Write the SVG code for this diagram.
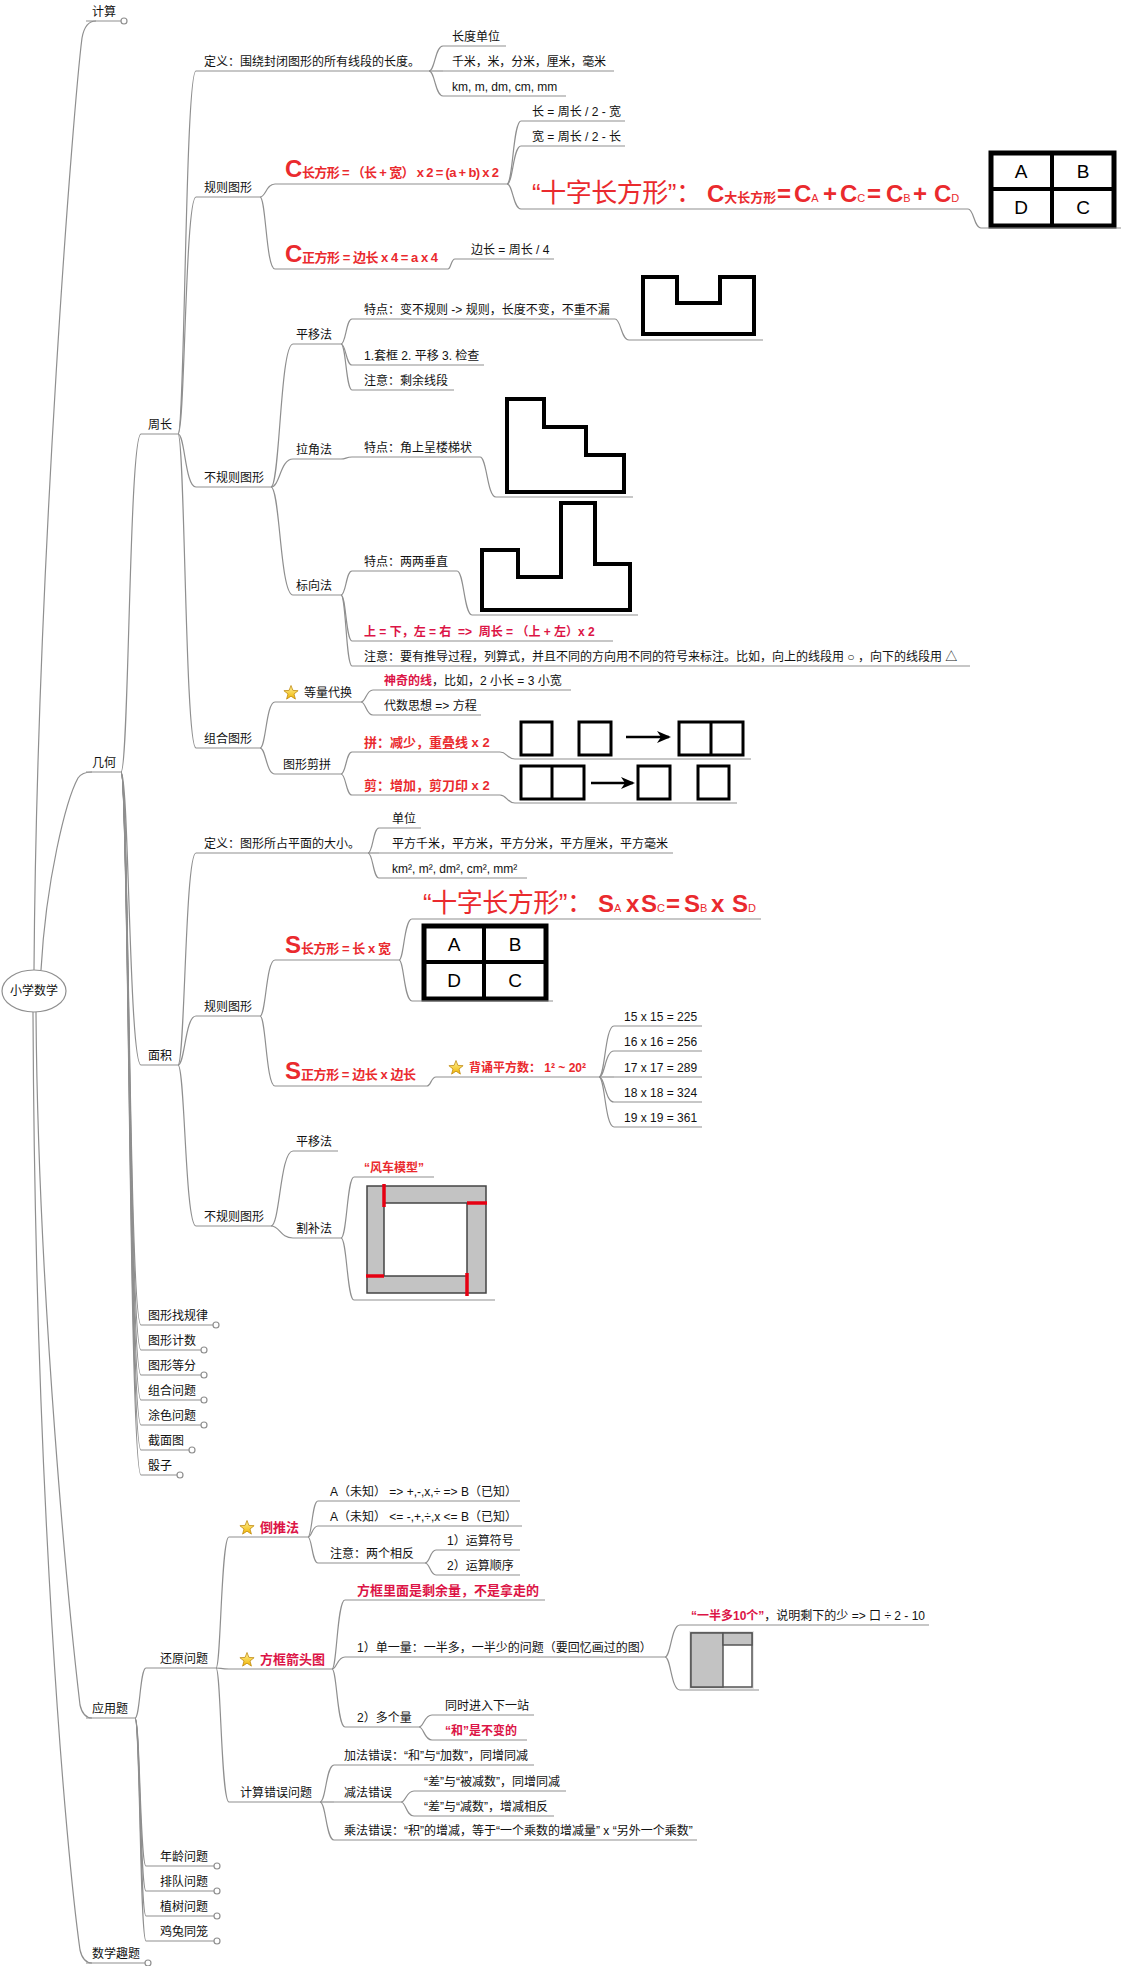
<svg xmlns="http://www.w3.org/2000/svg" width="1121" height="1966" viewBox="0 0 1121 1966">
<style>
text{font-family:"Liberation Sans","Noto Sans CJK SC",sans-serif;font-size:12px;fill:#111}
.u{fill:none;stroke:#8f8f8f;stroke-width:1.2}
#connectors path{fill:none;stroke:#8f8f8f;stroke-width:1.2}
.dot{fill:#fff;stroke:#8f8f8f;stroke-width:1.2}
.f{fill:#ea2a2e;font-weight:bold}
.f13{font-size:13px}
.b24{font-size:24px;font-weight:bold}
.sub{font-size:11px;font-weight:normal}
.hz{font-size:26px;font-weight:normal;fill:#ea2a2e}
.cr{fill:#dc1446;font-weight:bold}
.fig{fill:#fff;stroke:#000;stroke-width:4;stroke-linejoin:miter}
.sq{fill:#fff;stroke:#000;stroke-width:3}
.tb{fill:#fff;stroke:#000;stroke-width:5}
.tl{stroke:#000;stroke-width:4}
.cell{font-size:19px;fill:#000;text-anchor:middle}
</style>
<defs>
<linearGradient id="gold" x1="0" y1="0" x2="0" y2="1">
<stop offset="0" stop-color="#fff39a"/>
<stop offset="1" stop-color="#f0b400"/>
</linearGradient>
<polygon id="star" points="0,-7.5 1.9,-2.6 7.1,-2.3 3,1 4.4,6.1 0,3.2 -4.4,6.1 -3,1 -7.1,-2.3 -1.9,-2.6" fill="url(#gold)" stroke="#c08a10" stroke-width="0.8"/>
<marker id="ah" markerUnits="userSpaceOnUse" markerWidth="14" markerHeight="12" refX="12" refY="6" orient="auto">
<path d="M0,0 L14,6 L0,12 L4,6 Z" fill="#000"/>
</marker>
</defs>
<rect width="1121" height="1966" fill="#fff"/>

<!-- connectors -->
<g id="connectors">
<path d="M34,970 C37,560 74,100 82,38 Q85,21 96,21"/>
<path d="M41,970 C46,880 66,800 78,778 Q82,772 92,772"/>
<path d="M36,1012 C38,1300 70,1620 80,1705 Q83,1718 92,1718"/>
<path d="M33,1012 C35,1500 66,1850 80,1950 Q83,1963 92,1963"/>
<path d="M121,772 C129,772 129,434 141,434"/>
<path d="M121,772 C129,772 129,1065 141,1065"/>
<path d="M121,772 C129,772 129,1325 141,1325"/>
<path d="M121,772 C129,772 129,1350 141,1350"/>
<path d="M121,772 C129,772 129,1375 141,1375"/>
<path d="M121,772 C129,772 129,1400 141,1400"/>
<path d="M121,772 C129,772 129,1425 141,1425"/>
<path d="M121,772 C129,772 129,1450 141,1450"/>
<path d="M121,772 C129,772 129,1475 141,1475"/>
<path d="M178,434 C185,434 185,71 196,71"/>
<path d="M178,434 C185,434 185,197 196,197"/>
<path d="M178,434 C185,434 185,487 196,487"/>
<path d="M178,434 C185,434 185,748 196,748"/>
<path d="M429,71 C435,71 435,46 443,46"/>
<path d="M429,71 H443"/>
<path d="M429,71 C435,71 435,96 443,96"/>
<path d="M260,197 C266,197 266,184 275,184"/>
<path d="M260,197 C266,197 266,269 275,269"/>
<path d="M507,184 C513,184 513,121 521,121"/>
<path d="M507,184 C513,184 513,146 521,146"/>
<path d="M507,184 C513,184 513,209 521,209"/>
<path d="M968,209 C974,209 974,228 981,228"/>
<path d="M448,269 C451,269 451,259 455,259"/>
<path d="M271,487 C280,487 280,344 293,344"/>
<path d="M271,487 C280,487 280,459 293,459"/>
<path d="M271,487 C280,487 280,595 293,595"/>
<path d="M341,344 C346,344 346,319 352,319"/>
<path d="M341,344 C346,344 346,365 352,365"/>
<path d="M341,344 C346,344 346,390 352,390"/>
<path d="M615,319 C621,319 621,340 629,340"/>
<path d="M341,459 C346,459 346,457 352,457"/>
<path d="M480,457 C487,457 487,497 496,497"/>
<path d="M341,595 C346,595 346,571 352,571"/>
<path d="M341,595 C346,595 346,641 352,641"/>
<path d="M341,595 C346,595 346,666 352,666"/>
<path d="M457,571 C464,571 464,615 472,615"/>
<path d="M260,748 C266,748 266,702 275,702"/>
<path d="M260,748 C266,748 266,774 275,774"/>
<path d="M361,702 C366,702 366,690 373,690"/>
<path d="M361,702 C366,702 366,715 373,715"/>
<path d="M341,774 C346,774 346,752 352,752"/>
<path d="M341,774 C346,774 346,795 352,795"/>
<path d="M500,752 C507,752 507,759 515,759"/>
<path d="M500,795 C507,795 507,803 515,803"/>
<path d="M178,1065 C185,1065 185,853 196,853"/>
<path d="M178,1065 C185,1065 185,1016 196,1016"/>
<path d="M178,1065 C185,1065 185,1226 196,1226"/>
<path d="M368,853 C373,853 373,828 379,828"/>
<path d="M368,853 H379"/>
<path d="M368,853 C373,853 373,878 379,878"/>
<path d="M260,1016 C266,1016 266,960 275,960"/>
<path d="M260,1016 C266,1016 266,1086 275,1086"/>
<path d="M399,960 C404,960 404,919 412,919"/>
<path d="M399,960 C404,960 404,1001 412,1001"/>
<path d="M427,1086 C431,1086 431,1077 436,1077"/>
<path d="M599,1077 C605,1077 605,1026 614,1026"/>
<path d="M599,1077 C605,1077 605,1051 614,1051"/>
<path d="M599,1077 H614"/>
<path d="M599,1077 C605,1077 605,1102 614,1102"/>
<path d="M599,1077 C605,1077 605,1127 614,1127"/>
<path d="M271,1226 C280,1226 280,1151 293,1151"/>
<path d="M271,1226 C280,1226 280,1238 293,1238"/>
<path d="M341,1238 C347,1238 347,1177 354,1177"/>
<path d="M341,1238 C347,1238 347,1300 354,1300"/>
<path d="M135,1718 C140,1718 140,1668 146,1668"/>
<path d="M135,1718 C140,1718 140,1866 146,1866"/>
<path d="M135,1718 C140,1718 140,1891 146,1891"/>
<path d="M135,1718 C140,1718 140,1916 146,1916"/>
<path d="M135,1718 C140,1718 140,1941 146,1941"/>
<path d="M216,1668 C221,1668 221,1537 229,1537"/>
<path d="M216,1668 C221,1668 221,1669 229,1669"/>
<path d="M216,1668 C221,1668 221,1802 229,1802"/>
<path d="M308,1537 C312,1537 312,1501 318,1501"/>
<path d="M308,1537 C312,1537 312,1526 318,1526"/>
<path d="M308,1537 C312,1537 312,1563 318,1563"/>
<path d="M425,1563 C430,1563 430,1550 436,1550"/>
<path d="M425,1563 C430,1563 430,1575 436,1575"/>
<path d="M332,1669 C337,1669 337,1600 345,1600"/>
<path d="M332,1669 C337,1669 337,1657 345,1657"/>
<path d="M332,1669 C337,1669 337,1727 345,1727"/>
<path d="M665,1657 C671,1657 671,1625 680,1625"/>
<path d="M665,1657 C671,1657 671,1690 680,1690"/>
<path d="M419,1727 C424,1727 424,1715 432,1715"/>
<path d="M419,1727 C424,1727 424,1740 432,1740"/>
<path d="M320,1802 C326,1802 326,1765 334,1765"/>
<path d="M320,1802 H334"/>
<path d="M320,1802 C326,1802 326,1840 334,1840"/>
<path d="M401,1802 C406,1802 406,1791 414,1791"/>
<path d="M401,1802 C406,1802 406,1816 414,1816"/>
</g>

<!-- root -->
<g id="root">
<ellipse cx="34" cy="991" rx="32" ry="21" fill="#fff" stroke="#8f8f8f" stroke-width="1.2"/>
<text x="34" y="995" text-anchor="middle">小学数学</text>
</g>

<!-- top level -->
<g id="n-jisuan"><text x="92" y="16">计算</text><path class="u" d="M86,21 H121"/><circle class="dot" cx="124" cy="21" r="3"/></g>
<g id="n-jihe"><text x="92" y="767">几何</text><path class="u" d="M86,772 H121"/></g>
<g id="n-yingyong"><text x="92" y="1713">应用题</text><path class="u" d="M86,1718 H135"/></g>
<g id="n-quti"><text x="92" y="1958">数学趣题</text><path class="u" d="M86,1963 H145"/><circle class="dot" cx="148" cy="1963" r="3"/></g>

<!-- geometry: perimeter -->
<g id="n-zhouchang"><text x="148" y="429">周长</text><path class="u" d="M141,434 H178"/></g>
<g id="n-zc-def"><text x="204" y="66">定义：围绕封闭图形的所有线段的长度。</text><path class="u" d="M196,71 H429"/></g>
<g id="n-len-unit"><text x="452" y="41">长度单位</text><path class="u" d="M443,46 H506"/></g>
<g id="n-len-cn"><text x="452" y="66" textLength="154">千米，米，分米，厘米，毫米</text><path class="u" d="M443,71 H614"/></g>
<g id="n-len-en"><text x="452" y="91">km, m, dm, cm, mm</text><path class="u" d="M443,96 H566"/></g>

<g id="n-zc-rule"><text x="204" y="192">规则图形</text><path class="u" d="M196,197 H260"/></g>
<g id="n-c-rect"><text x="285" y="177" class="f b24">C</text><text x="302" y="177" class="f f13" textLength="197">长方形 = （长 + 宽） x 2 = (a + b) x 2</text><path class="u" d="M275,184 H507"/></g>
<g id="n-len-a"><text x="532" y="116">长 = 周长 / 2 - 宽</text><path class="u" d="M521,121 H625"/></g>
<g id="n-len-b"><text x="532" y="141">宽 = 周长 / 2 - 长</text><path class="u" d="M521,146 H625"/></g>
<g id="n-cross-c">
<text x="532" y="202" class="hz" textLength="170">“十字长方形”：</text>
<text y="202" class="f"><tspan x="707" class="b24">C</tspan><tspan class="f13">大长方形</tspan><tspan x="777" class="b24">=</tspan><tspan x="794" class="b24">C</tspan><tspan class="sub">A</tspan><tspan x="823" class="b24">+</tspan><tspan x="840" class="b24">C</tspan><tspan class="sub">C</tspan><tspan x="867" class="b24">=</tspan><tspan x="886" class="b24">C</tspan><tspan class="sub">B</tspan><tspan x="913" class="b24">+</tspan><tspan x="934" class="b24">C</tspan><tspan class="sub">D</tspan></text>
<path class="u" d="M521,209 H968"/>
</g>
<g id="n-table-c">
<rect class="tb" x="991" y="153" width="123" height="73"/>
<line class="tl" x1="1052" y1="153" x2="1052" y2="226"/>
<line class="tl" x1="991" y1="189" x2="1114" y2="189"/>
<text class="cell" x="1021" y="178">A</text><text class="cell" x="1083" y="178">B</text>
<text class="cell" x="1021" y="214">D</text><text class="cell" x="1083" y="214">C</text>
<path class="u" d="M981,228 H1121"/>
</g>
<g id="n-c-sq"><text x="285" y="262" class="f b24">C</text><text x="302" y="262" class="f f13" textLength="136">正方形 = 边长 x 4 = a x 4</text><path class="u" d="M275,269 H448"/></g>
<g id="n-side"><text x="471" y="254">边长 = 周长 / 4</text><path class="u" d="M455,259 H554"/></g>

<g id="n-zc-irr"><text x="204" y="482">不规则图形</text><path class="u" d="M196,487 H271"/></g>
<g id="n-shift"><text x="296" y="339">平移法</text><path class="u" d="M293,344 H341"/></g>
<g id="n-shift-a"><text x="364" y="314">特点：变不规则 -&gt; 规则，长度不变，不重不漏</text><path class="u" d="M352,319 H615"/></g>
<g id="n-shift-fig"><polygon class="fig" points="643,277 677,277 677,303 720,303 720,277 754,277 754,334 643,334"/><path class="u" d="M629,340 H763"/></g>
<g id="n-shift-b"><text x="364" y="360">1.套框 2. 平移 3. 检查</text><path class="u" d="M352,365 H484"/></g>
<g id="n-shift-c"><text x="364" y="385">注意：剩余线段</text><path class="u" d="M352,390 H454"/></g>
<g id="n-pull"><text x="296" y="454">拉角法</text><path class="u" d="M293,459 H341"/></g>
<g id="n-pull-a"><text x="364" y="452">特点：角上呈楼梯状</text><path class="u" d="M352,457 H480"/></g>
<g id="n-pull-fig"><polygon class="fig" points="507,399 544,399 544,427 586,427 586,455 624,455 624,492 507,492"/><path class="u" d="M496,497 H633"/></g>
<g id="n-mark"><text x="296" y="590">标向法</text><path class="u" d="M293,595 H341"/></g>
<g id="n-mark-a"><text x="364" y="566">特点：两两垂直</text><path class="u" d="M352,571 H457"/></g>
<g id="n-mark-fig"><polygon class="fig" points="482,550 518,550 518,577 561,577 561,503 595,503 595,564 630,564 630,610 482,610"/><path class="u" d="M472,615 H638"/></g>
<g id="n-mark-b"><text x="364" y="636" class="cr">上 = 下，左 = 右 &#160;=&gt; &#160;周长 = （上 + 左）x 2</text><path class="u" d="M352,641 H613"/></g>
<g id="n-mark-c"><text x="364" y="661">注意：要有推导过程，列算式，并且不同的方向用不同的符号来标注。比如，向上的线段用 ○ ，向下的线段用 △</text><path class="u" d="M352,666 H970"/></g>

<g id="n-zc-combo"><text x="204" y="743">组合图形</text><path class="u" d="M196,748 H260"/></g>
<g id="n-equal"><use href="#star" x="291" y="693"/><text x="304" y="697">等量代换</text><path class="u" d="M275,702 H361"/></g>
<g id="n-equal-a"><text x="384" y="685"><tspan class="cr">神奇的线</tspan>，比如，2 小长 = 3 小宽</text><path class="u" d="M373,690 H571"/></g>
<g id="n-equal-b"><text x="384" y="710">代数思想 =&gt; 方程</text><path class="u" d="M373,715 H481"/></g>
<g id="n-cut"><text x="283" y="769">图形剪拼</text><path class="u" d="M275,774 H341"/></g>
<g id="n-cut-a"><text x="364" y="747" class="f f13">拼：减少，重叠线 x 2</text><path class="u" d="M352,752 H500"/></g>
<g id="n-cut-a-fig">
<rect class="sq" x="521" y="722" width="31" height="33"/>
<rect class="sq" x="579" y="722" width="32" height="33"/>
<line x1="626" y1="737" x2="669" y2="737" stroke="#000" stroke-width="2.5" marker-end="url(#ah)"/>
<rect class="sq" x="679" y="722" width="64" height="33"/>
<line x1="711" y1="722" x2="711" y2="755" stroke="#000" stroke-width="3"/>
<path class="u" d="M515,759 H751"/>
</g>
<g id="n-cut-b"><text x="364" y="790" class="f f13">剪：增加，剪刀印 x 2</text><path class="u" d="M352,795 H500"/></g>
<g id="n-cut-b-fig">
<rect class="sq" x="521" y="766" width="63" height="33"/>
<line x1="552" y1="766" x2="552" y2="799" stroke="#000" stroke-width="3"/>
<line x1="591" y1="783" x2="633" y2="783" stroke="#000" stroke-width="2.5" marker-end="url(#ah)"/>
<rect class="sq" x="638" y="766" width="32" height="33"/>
<rect class="sq" x="698" y="766" width="31" height="33"/>
<path class="u" d="M515,803 H737"/>
</g>

<!-- geometry: area -->
<g id="n-mianji"><text x="148" y="1060">面积</text><path class="u" d="M141,1065 H178"/></g>
<g id="n-mj-def"><text x="204" y="848">定义：图形所占平面的大小。</text><path class="u" d="M196,853 H368"/></g>
<g id="n-area-unit"><text x="392" y="823">单位</text><path class="u" d="M379,828 H421"/></g>
<g id="n-area-cn"><text x="392" y="848">平方千米，平方米，平方分米，平方厘米，平方毫米</text><path class="u" d="M379,853 H673"/></g>
<g id="n-area-en"><text x="392" y="873">km², m², dm², cm², mm²</text><path class="u" d="M379,878 H527"/></g>
<g id="n-mj-rule"><text x="204" y="1011">规则图形</text><path class="u" d="M196,1016 H260"/></g>
<g id="n-s-rect"><text x="285" y="953" class="f b24">S</text><text x="301" y="953" class="f f13" textLength="90">长方形 = 长 x 宽</text><path class="u" d="M275,960 H399"/></g>
<g id="n-cross-s">
<text x="423" y="912" class="hz" textLength="170">“十字长方形”：</text>
<text y="912" class="f"><tspan x="598" class="b24">S</tspan><tspan class="sub">A</tspan><tspan x="626" class="b24">x</tspan><tspan x="641" class="b24">S</tspan><tspan class="sub">C</tspan><tspan x="666" class="b24">=</tspan><tspan x="684" class="b24">S</tspan><tspan class="sub">B</tspan><tspan x="711" class="b24">x</tspan><tspan x="732" class="b24">S</tspan><tspan class="sub">D</tspan></text>
<path class="u" d="M412,919 H761"/>
</g>
<g id="n-table-s">
<rect class="tb" x="424" y="926" width="122" height="73"/>
<line class="tl" x1="484" y1="926" x2="484" y2="999"/>
<line class="tl" x1="424" y1="962" x2="546" y2="962"/>
<text class="cell" x="454" y="951">A</text><text class="cell" x="515" y="951">B</text>
<text class="cell" x="454" y="987">D</text><text class="cell" x="515" y="987">C</text>
<path class="u" d="M412,1001 H553"/>
</g>
<g id="n-s-sq"><text x="285" y="1079" class="f b24">S</text><text x="301" y="1079" class="f f13" textLength="115">正方形 = 边长 x 边长</text><path class="u" d="M275,1086 H427"/></g>
<g id="n-squares"><use href="#star" x="456" y="1068"/><text x="469" y="1072" class="f">背诵平方数： 1² ~ 20²</text><path class="u" d="M436,1077 H599"/></g>
<g id="n-sq15"><text x="624" y="1021">15 x 15 = 225</text><path class="u" d="M614,1026 H702"/></g>
<g id="n-sq16"><text x="624" y="1046">16 x 16 = 256</text><path class="u" d="M614,1051 H702"/></g>
<g id="n-sq17"><text x="624" y="1072">17 x 17 = 289</text><path class="u" d="M614,1077 H702"/></g>
<g id="n-sq18"><text x="624" y="1097">18 x 18 = 324</text><path class="u" d="M614,1102 H702"/></g>
<g id="n-sq19"><text x="624" y="1122">19 x 19 = 361</text><path class="u" d="M614,1127 H702"/></g>
<g id="n-mj-irr"><text x="204" y="1221">不规则图形</text><path class="u" d="M196,1226 H271"/></g>
<g id="n-mj-shift"><text x="296" y="1146">平移法</text><path class="u" d="M293,1151 H338"/></g>
<g id="n-mj-patch"><text x="296" y="1233">割补法</text><path class="u" d="M293,1238 H341"/></g>
<g id="n-windmill"><text x="364" y="1172" class="f">“风车模型”</text><path class="u" d="M354,1177 H434"/></g>
<g id="n-windmill-fig">
<rect x="367" y="1186" width="119" height="107" fill="#c3c3c3" stroke="#444" stroke-width="1.5"/>
<rect x="384" y="1203" width="83" height="73" fill="#fff" stroke="#444" stroke-width="1.5"/>
<g stroke="#e60012" stroke-width="3.5">
<line x1="384" y1="1184" x2="384" y2="1207"/>
<line x1="467" y1="1203" x2="487" y2="1203"/>
<line x1="366" y1="1276" x2="384" y2="1276"/>
<line x1="467" y1="1273" x2="467" y2="1296"/>
</g>
<path class="u" d="M354,1300 H495"/>
</g>

<!-- geometry: collapsed topics -->
<g id="n-pattern"><text x="148" y="1320">图形找规律</text><path class="u" d="M141,1325 H213"/><circle class="dot" cx="216" cy="1325" r="3"/></g>
<g id="n-count"><text x="148" y="1345">图形计数</text><path class="u" d="M141,1350 H201"/><circle class="dot" cx="204" cy="1350" r="3"/></g>
<g id="n-divide"><text x="148" y="1370">图形等分</text><path class="u" d="M141,1375 H201"/><circle class="dot" cx="204" cy="1375" r="3"/></g>
<g id="n-combine"><text x="148" y="1395">组合问题</text><path class="u" d="M141,1400 H201"/><circle class="dot" cx="204" cy="1400" r="3"/></g>
<g id="n-color"><text x="148" y="1420">涂色问题</text><path class="u" d="M141,1425 H201"/><circle class="dot" cx="204" cy="1425" r="3"/></g>
<g id="n-section"><text x="148" y="1445">截面图</text><path class="u" d="M141,1450 H189"/><circle class="dot" cx="192" cy="1450" r="3"/></g>
<g id="n-dice"><text x="148" y="1470">骰子</text><path class="u" d="M141,1475 H177"/><circle class="dot" cx="180" cy="1475" r="3"/></g>

<!-- word problems -->
<g id="n-restore"><text x="160" y="1663">还原问题</text><path class="u" d="M146,1668 H216"/></g>
<g id="n-backward"><use href="#star" x="247" y="1528"/><text x="260" y="1532" class="cr f13">倒推法</text><path class="u" d="M229,1537 H308"/></g>
<g id="n-back-a"><text x="330" y="1496">A（未知） =&gt; +,-,x,÷ =&gt; B（已知）</text><path class="u" d="M318,1501 H520"/></g>
<g id="n-back-b"><text x="330" y="1521">A（未知） &lt;= -,+,÷,x &lt;= B（已知）</text><path class="u" d="M318,1526 H522"/></g>
<g id="n-back-c"><text x="330" y="1558">注意：两个相反</text><path class="u" d="M318,1563 H425"/></g>
<g id="n-back-c1"><text x="447" y="1545">1）运算符号</text><path class="u" d="M436,1550 H520"/></g>
<g id="n-back-c2"><text x="447" y="1570">2）运算顺序</text><path class="u" d="M436,1575 H520"/></g>
<g id="n-boxarrow"><use href="#star" x="247" y="1660"/><text x="260" y="1664" class="cr f13">方框箭头图</text><path class="u" d="M229,1669 H332"/></g>
<g id="n-box-a"><text x="357" y="1595" class="cr f13">方框里面是剩余量，不是拿走的</text><path class="u" d="M345,1600 H545"/></g>
<g id="n-box-b"><text x="357" y="1652">1）单一量：一半多，一半少的问题（要回忆画过的图）</text><path class="u" d="M345,1657 H665"/></g>
<g id="n-box-b1"><text x="691" y="1620"><tspan class="cr">“一半多10个”</tspan>，说明剩下的少 =&gt; 口 ÷ 2 - 10</text><path class="u" d="M680,1625 H929"/></g>
<g id="n-box-b-fig">
<rect x="689" y="1631" width="65" height="58" fill="#e6e6e6"/>
<rect x="691" y="1633" width="61" height="54" fill="#fff" stroke="#555" stroke-width="1.5"/>
<rect x="691" y="1633" width="32" height="54" fill="#c3c3c3" stroke="#555" stroke-width="1.5"/>
<rect x="723" y="1633" width="29" height="12" fill="#c3c3c3" stroke="#555" stroke-width="1.5"/>
<path class="u" d="M680,1690 H759"/>
</g>
<g id="n-box-c"><text x="357" y="1722">2）多个量</text><path class="u" d="M345,1727 H419"/></g>
<g id="n-box-c1"><text x="445" y="1710">同时进入下一站</text><path class="u" d="M432,1715 H534"/></g>
<g id="n-box-c2"><text x="445" y="1735" class="cr">“和”是不变的</text><path class="u" d="M432,1740 H527"/></g>
<g id="n-calcerr"><text x="240" y="1797">计算错误问题</text><path class="u" d="M229,1802 H320"/></g>
<g id="n-err-add"><text x="344" y="1760">加法错误：“和”与“加数”，同增同减</text><path class="u" d="M334,1765 H534"/></g>
<g id="n-err-sub"><text x="344" y="1797">减法错误</text><path class="u" d="M334,1802 H401"/></g>
<g id="n-err-sub1"><text x="424" y="1786">“差”与“被减数”，同增同减</text><path class="u" d="M414,1791 H566"/></g>
<g id="n-err-sub2"><text x="424" y="1811">“差”与“减数”，增减相反</text><path class="u" d="M414,1816 H554"/></g>
<g id="n-err-mul"><text x="344" y="1835">乘法错误：“积”的增减，等于“一个乘数的增减量” x “另外一个乘数”</text><path class="u" d="M334,1840 H697"/></g>
<g id="n-age"><text x="160" y="1861">年龄问题</text><path class="u" d="M146,1866 H214"/><circle class="dot" cx="217" cy="1866" r="3"/></g>
<g id="n-queue"><text x="160" y="1886">排队问题</text><path class="u" d="M146,1891 H214"/><circle class="dot" cx="217" cy="1891" r="3"/></g>
<g id="n-tree"><text x="160" y="1911">植树问题</text><path class="u" d="M146,1916 H214"/><circle class="dot" cx="217" cy="1916" r="3"/></g>
<g id="n-chicken"><text x="160" y="1936">鸡兔同笼</text><path class="u" d="M146,1941 H214"/><circle class="dot" cx="217" cy="1941" r="3"/></g>
</svg>
